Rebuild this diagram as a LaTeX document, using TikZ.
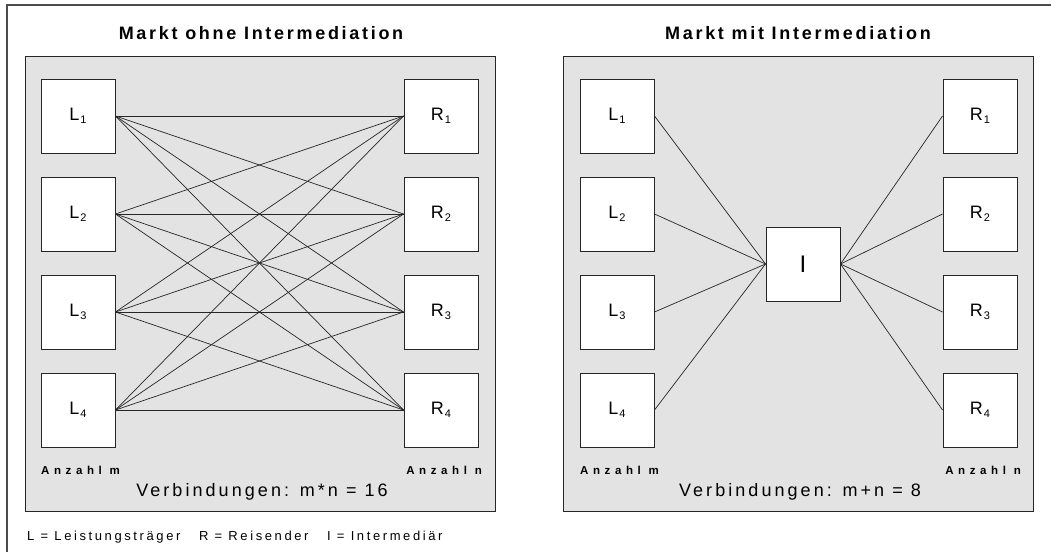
\documentclass[tikz,border=0pt]{standalone}
\usepackage{fontspec}
\setmainfont{Liberation Sans}
\newfontfamily\headfont{Liberation Sans}[LetterSpace=15]
\newfontfamily\sumfont{Liberation Sans}[LetterSpace=17]
\newfontfamily\keyfont{Liberation Sans}[LetterSpace=20]
\newfontfamily\countfont{Liberation Sans}[LetterSpace=40]
\newcommand\idx[1]{\kern1pt\raisebox{-3pt}{\fontsize{11}{11}\selectfont#1}}
\begin{document}
\begin{tikzpicture}[x=1pt,y=-1pt,
  frame/.style={draw=gray!60!black, line width=1.2pt},
  panel/.style={draw=gray!30!black, fill=gray!22, line width=1pt, inner sep=0pt,
    minimum width=470pt, minimum height=455pt},
  actor/.style={draw=gray!30!black, fill=white, line width=1pt, inner sep=0pt,
    minimum size=74pt, font=\fontsize{18}{18}\selectfont},
  hub/.style={actor, font=\fontsize{24}{24}\selectfont},
  link/.style={draw=black!85, line width=0.7pt},
  title/.style={font=\headfont\bfseries\fontsize{18}{18}\selectfont, inner sep=0pt},
  count/.style={font=\countfont\bfseries\fontsize{11.5}{11.5}\selectfont, inner sep=0pt},
  formula/.style={font=\sumfont\fontsize{18}{18}\selectfont, inner sep=0pt},
  legend/.style={font=\keyfont\fontsize{13}{13}\selectfont, inner sep=0pt}]
\useasboundingbox (0,0) rectangle (1051,552);

% outer frame (only top and left edges fall inside the page)
\coordinate (fTL) at (7,5);
\coordinate (fTR) at (1051,5);
\coordinate (fBL) at (7,552);
\draw[frame] (fTR) -- (fTL) -- (fBL);

% panels
\node[panel] (pleft) at (260,283.5) {};
\node[panel] (pright) at (798,283.5) {};

\node[title] (tleft) at (261,33) {Markt ohne Intermediation};
\node[title] (tright) at (798,33) {Markt mit Intermediation};

% market without intermediation
\foreach \i/\y in {1/116,2/214,3/312,4/410}{
  \node[actor] (aL\i) at (78,\y) {L\idx{\i}};
  \node[actor] (aR\i) at (441,\y) {R\idx{\i}};
}
\foreach \i in {1,...,4}{
  \foreach \j in {1,...,4}{
    \draw[link] (aL\i.east) -- (aR\j.west);
  }
}
\node[count, anchor=base west] (cml) at (41,474) {Anzahl m};
\node[count, anchor=base east] (cnl) at (482,474) {Anzahl n};
\node[formula, anchor=base] (vl) at (262,496) {Verbindungen: m*n = 16};

% market with intermediation
\foreach \i/\y in {1/116,2/214,3/312,4/410}{
  \node[actor] (bL\i) at (617,\y) {L\idx{\i}};
  \node[actor] (bR\i) at (980,\y) {R\idx{\i}};
}
\node[hub] (hub) at (803,264) {I};
\foreach \i in {1,...,4}{
  \draw[link] (bL\i.east) -- (hub.west);
  \draw[link] (hub.east) -- (bR\i.west);
}
\node[count, anchor=base west] (cmr) at (580,474) {Anzahl m};
\node[count, anchor=base east] (cnr) at (1021,474) {Anzahl n};
\node[formula, anchor=base] (vr) at (800,496) {Verbindungen: m+n = 8};

% legend
\node[legend, anchor=base west] (key) at (27,540)
  {L = Leistungsträger \ \ R = Reisender \ \ I = Intermediär};
\end{tikzpicture}
\end{document}
